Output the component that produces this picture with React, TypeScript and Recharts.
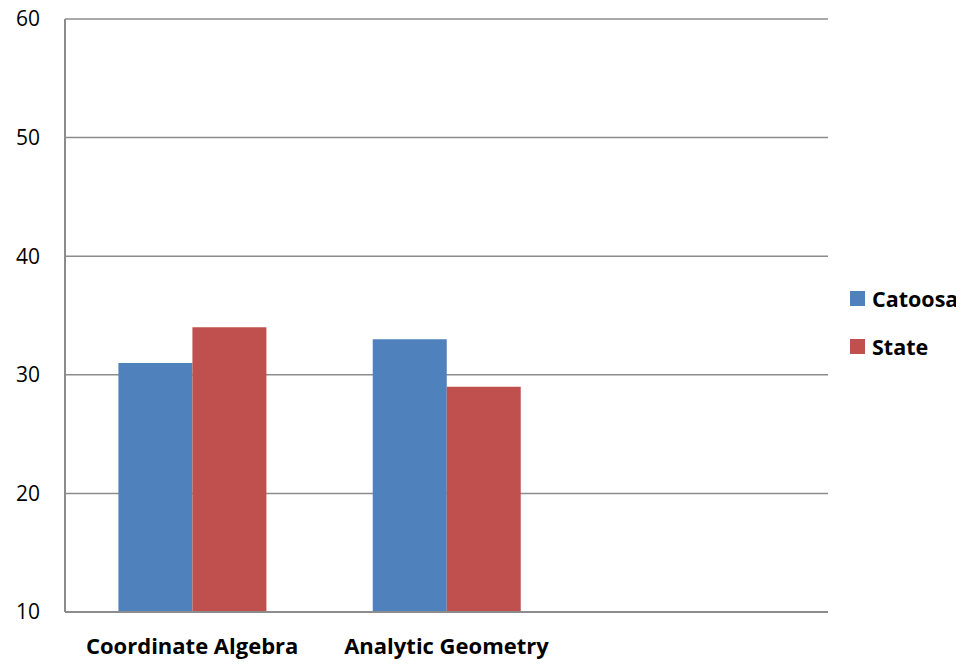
import { Bar, BarChart, CartesianGrid, XAxis, YAxis } from "recharts";

const categories = ["Coordinate Algebra", "Analytic Geometry", ""];
const catoosa = [31, 33, null];
const state = [34, 29, null];
const yTicks = [10, 20, 30, 40, 50, 60];

const data = categories.map((name, i) => ({
  name,
  Catoosa: catoosa[i],
  State: state[i],
}));

const FONT = "'Open Sans', sans-serif";
const BLUE = "#4F81BD";
const RED = "#C0504D";

const legendItems = [
  { label: "Catoosa", color: BLUE },
  { label: "State", color: RED },
];

function LegendBox() {
  return (
    <div
      style={{
        position: "absolute",
        left: 842,
        top: 274,
        fontFamily: FONT,
        fontWeight: 700,
        fontSize: 21.5,
        color: "#000",
      }}
    >
      {legendItems.map((it) => (
        <div key={it.label} style={{ display: "flex", alignItems: "center", height: 48 }}>
          <span
            style={{
              display: "inline-block",
              width: 15,
              height: 15,
              background: it.color,
              marginRight: 7,
            }}
          />
          {it.label}
        </div>
      ))}
    </div>
  );
}

export default function App() {
  return (
    <div
      style={{
        position: "relative",
        width: 956,
        height: 664,
        marginTop: -8,
        background: "#fff",
      }}
    >
      <BarChart
        width={956}
        height={664}
        data={data}
        margin={{ top: 19, right: 136, left: 0, bottom: 22 }}
        barCategoryGap="21%"
        barGap={0}
      >
        <CartesianGrid vertical={false} stroke="#8c8c8c" strokeWidth={1.5} />
        <XAxis
          dataKey="name"
          tickLine={false}
          tickSize={0}
          tickMargin={26}
          stroke="#8c8c8c"
          strokeWidth={2}
          tick={{ fontFamily: FONT, fontSize: 22, fontWeight: 700, fill: "#000" }}
        />
        <YAxis
          domain={[10, 60]}
          ticks={yTicks}
          width={57}
          tickLine={false}
          tickSize={0}
          tickMargin={25}
          stroke="#8c8c8c"
          strokeWidth={2}
          tick={{ fontFamily: FONT, fontSize: 21, fill: "#000" }}
        />
        <Bar dataKey="Catoosa" fill={BLUE} isAnimationActive={false} />
        <Bar dataKey="State" fill={RED} isAnimationActive={false} />
      </BarChart>
      <LegendBox />
    </div>
  );
}
